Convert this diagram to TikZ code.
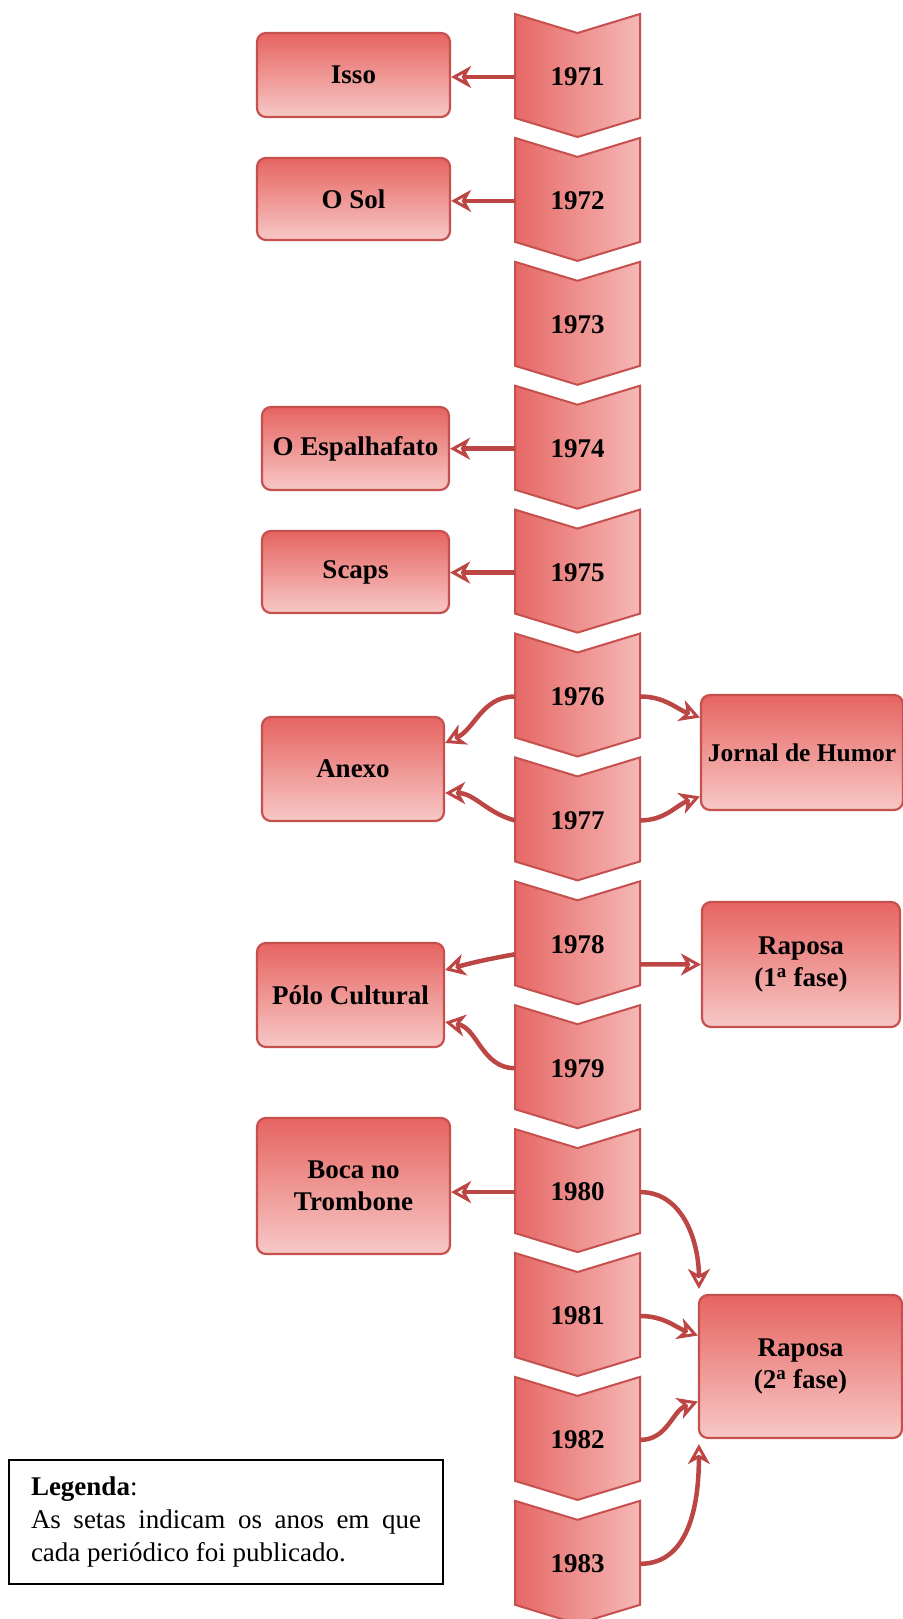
\documentclass[tikz,border=0pt]{standalone}
\usepackage{fontspec}
\setmainfont{Liberation Serif}
\usetikzlibrary{arrows.meta,calc}
\definecolor{edgered}{RGB}{198,80,77}
\definecolor{arrowred}{RGB}{188,70,68}
\definecolor{fillA}{RGB}{230,100,97}
\definecolor{fillB}{RGB}{247,200,198}
\definecolor{chevA}{RGB}{230,104,102}
\definecolor{chevB}{RGB}{245,184,182}
\begin{document}
\begin{tikzpicture}[x=1pt,y=-1pt,
  pbox/.style={draw=edgered, line width=2.2pt, rounded corners=9pt, top color=fillA, bottom color=fillB,
    font=\fontsize{27}{32}\selectfont\bfseries, align=center, inner sep=0pt},
  chevshape/.style={draw=edgered, line width=2pt, left color=chevA, right color=chevB, line join=miter},
  yearlab/.style={font=\fontsize{27}{32}\selectfont\bfseries, minimum width=125pt, inner sep=0pt},
  arr/.style={draw=arrowred, line width=4.5pt,
    -{Stealth[open, length=20pt, width=22pt, inset=6pt, line width=3pt]}},
]
\useasboundingbox (0,0) rectangle (902,1619);
\fill[white] (0,0) rectangle (902,1619);

% timeline chevrons
\foreach \i in {0,...,12}{
  \pgfmathsetmacro{\tp}{14+123.9*\i}
  \pgfmathtruncatemacro{\yr}{1971+\i}
  \path[chevshape] (515,\tp) -- (577.5,\tp+19) -- (640,\tp) -- (640,\tp+104)
     -- (577.5,\tp+123) -- (515,\tp+104) -- cycle;
  \node[yearlab] (c\yr) at (577.5,\tp+63) {\yr};
}

% periodicals (left)
\node[pbox, minimum width=193pt, minimum height=84pt]  (isso)  at (353.5,75)    {Isso};
\node[pbox, minimum width=193pt, minimum height=82pt]  (osol)  at (353.5,199)   {O Sol};
\node[pbox, minimum width=187pt, minimum height=83pt]  (espa)  at (355.5,448.5) {O Espalhafato};
\node[pbox, minimum width=187pt, minimum height=82pt]  (scaps) at (355.5,572)   {Scaps};
\node[pbox, minimum width=182pt, minimum height=104pt] (anexo) at (353,769)     {Anexo};
\node[pbox, minimum width=187pt, minimum height=104pt] (polo)  at (350.5,995)   {Pólo Cultural};
\node[pbox, minimum width=193pt, minimum height=136pt] (boca)  at (353.5,1186)  {Boca no\\Trombone};

% periodicals (right)
\node[pbox, minimum width=202pt, minimum height=115pt, font=\fontsize{25.5}{31}\selectfont\bfseries]
  (jornal) at (802,752.5)  {Jornal de Humor};
\node[pbox, minimum width=198pt, minimum height=125pt] (rapA)   at (801,964.5)  {Raposa\\(1\textsuperscript{a} fase)};
\node[pbox, minimum width=203pt, minimum height=143pt] (rapB)   at (800.5,1366.5) {Raposa\\(2\textsuperscript{a} fase)};

% legend
\node[draw=black, line width=1.5pt, minimum width=434pt, minimum height=124pt, inner sep=0pt]
  (legend) at (226,1522)
  {\parbox{390pt}{\fontsize{27}{33}\selectfont\textbf{Legenda}:\\
   \makebox[390pt][s]{As setas indicam os anos em que}\\
   cada periódico foi publicado.}};

% arrows
\draw[arr] (c1971.west) -- (c1971.west -| isso.east);
\draw[arr] (c1972.west) -- (c1972.west -| osol.east);
\draw[arr] (c1974.west) -- (c1974.west -| espa.east);
\draw[arr] (c1975.west) -- (c1975.west -| scaps.east);
\draw[arr] (c1976.west) to[out=180,in=25] ([yshift=26pt]anexo.east);
\draw[arr] (c1977.west) to[out=165,in=0] ([yshift=-24pt]anexo.east);
\draw[arr] (c1976.east) to[out=0,in=160] ([yshift=35pt]jornal.west);
\draw[arr] (c1977.east) to[out=0,in=200] ([yshift=-44pt]jornal.west);
\draw[arr] ([yshift=-10pt]c1978.west) to[out=190,in=15] ([yshift=25pt]polo.east);
\draw[arr] (c1979.west) to[out=180,in=-10] ([yshift=-27pt]polo.east);
\draw[arr] ([yshift=-20pt]c1978.east) -- (rapA.west);
\draw[arr] (c1980.west) -- (c1980.west -| boca.east);
\draw[arr] (c1980.east) to[out=0,in=90] ([xshift=1pt,yshift=5pt]rapB.north west);
\draw[arr] (c1981.east) to[out=0,in=160] ([yshift=31pt]rapB.west);
\draw[arr] (c1982.east) to[out=0,in=200] ([yshift=-35pt]rapB.west);
\draw[arr] (c1983.east) to[out=0,in=-90] ([xshift=1pt,yshift=-5pt]rapB.south west);
\end{tikzpicture}
\end{document}
